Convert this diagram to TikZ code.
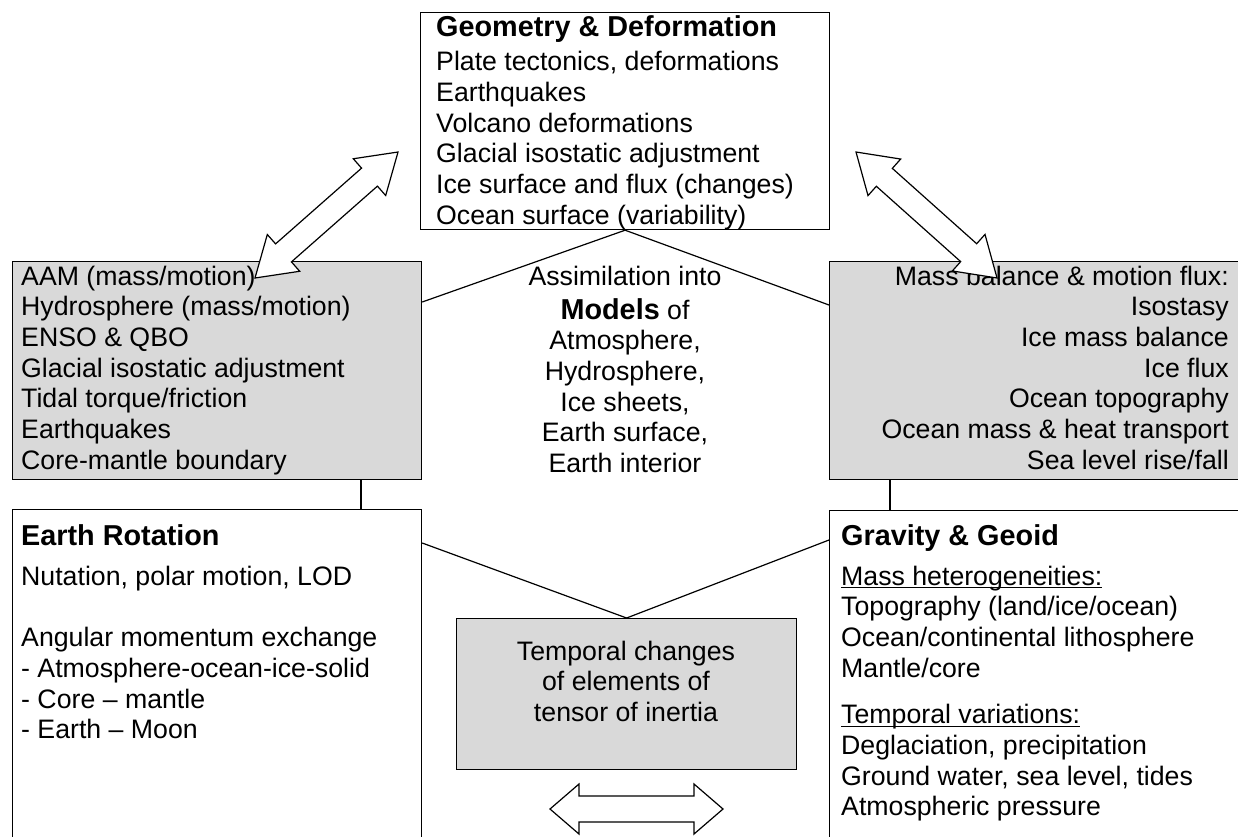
\documentclass[tikz,border=0pt]{standalone}
\usepackage{fontspec}
\setmainfont{Liberation Sans}
\usetikzlibrary{calc}

\definecolor{boxgray}{HTML}{D9D9D9}
\newcommand\bodyfont{\fontsize{26.7}{30.7}\selectfont}
\newcommand\headfont{\fontsize{28.8}{30.7}\selectfont\bfseries}
% underline that sits just below the baseline
\newcommand\ulin[1]{\setbox0\hbox{#1}\rlap{\rule[-3.4pt]{\wd0}{1.3pt}}\box0}

\tikzset{
  panel/.style={draw, line width=1.2pt, inner sep=0pt, anchor=north west},
  shaded/.style={panel, fill=boxgray},
  txt/.style={inner sep=0pt, font=\bodyfont},
  link/.style={line width=1.2pt},
  blockarrow/.style={draw, fill=white, line width=1.2pt, line join=miter},
  % double block arrow: length / head length / head half width / shaft half width
  pics/dblarrow/.style args={#1/#2/#3/#4}{code={
    \draw[blockarrow] (0,0) -- (#2,#3) -- (#2,#4) -- ({#1-#2},#4) -- ({#1-#2},#3)
      -- (#1,0) -- ({#1-#2},-#3) -- ({#1-#2},-#4) -- (#2,-#4) -- (#2,-#3) -- cycle;
  }}
}

\begin{document}
\begin{tikzpicture}[x=1pt,y=-1pt]
\useasboundingbox (0,0) rectangle (1238,836);
\fill[white] (0,0) rectangle (1238,836);
\clip (0,0) rectangle (1238,836);

% boxes
\node[panel,  minimum width=409pt, minimum height=217pt] (geo)   at (420,12)  {};
\node[shaded, minimum width=409pt, minimum height=218pt] (lgray) at (12,261)  {};
\node[shaded, minimum width=420pt, minimum height=218pt] (rgray) at (829,261) {};
\node[panel,  minimum width=409pt, minimum height=341pt] (rot)   at (12,509)  {};
\node[panel,  minimum width=420pt, minimum height=340pt] (grav)  at (829,510) {};
\node[shaded, minimum width=340pt, minimum height=151pt] (temp)  at (456,618) {};

% connectors
\draw[link] (lgray.east |- 0,302) -- (geo.south) -- (rgray.west |- 0,305);
\draw[link] (rot.east |- 0,543) -- (temp.north) -- (grav.west |- 0,540);
\draw[link] (lgray.south -| 361,0) -- (rot.north -| 361,0);
\draw[link] (rgray.south -| 890,0) -- (grav.north -| 890,0);

% texts
\node[txt, anchor=base west] (geotxt) at (436,36) {\begin{tabular}[t]{@{}l@{}}
  \headfont Geometry \& Deformation\\[4pt]
  Plate tectonics, deformations\\
  Earthquakes\\
  Volcano deformations\\
  Glacial isostatic adjustment\\
  Ice surface and flux (changes)\\
  Ocean surface (variability)
\end{tabular}};

\node[txt, anchor=base west] (ltxt) at (21,285) {\begin{tabular}[t]{@{}l@{}}
  AAM (mass/motion)\\
  Hydrosphere (mass/motion)\\
  ENSO \& QBO\\
  Glacial isostatic adjustment\\
  Tidal torque/friction\\
  Earthquakes\\
  Core-mantle boundary
\end{tabular}};

\node[txt, anchor=base east] (rtxt) at (1229,285) {\begin{tabular}[t]{@{}r@{}}
  Mass balance \& motion flux:\\
  Isostasy\\
  Ice mass balance\\
  Ice flux\\
  Ocean topography\\
  Ocean mass \& heat transport\\
  Sea level rise/fall
\end{tabular}};

\node[txt, anchor=base] (models) at (625,285) {\begin{tabular}[t]{@{}c@{}}
  Assimilation into\\[3.3pt]
  {\headfont Models} of\\
  Atmosphere,\\
  Hydrosphere,\\
  Ice sheets,\\
  Earth surface,\\
  Earth interior
\end{tabular}};

\node[txt, anchor=base west] (rottxt) at (21,545) {\begin{tabular}[t]{@{}l@{}}
  \headfont Earth Rotation\\[9.3pt]
  Nutation, polar motion, LOD\\[31pt]
  Angular momentum exchange\\
  - Atmosphere-ocean-ice-solid\\
  - Core – mantle\\
  - Earth – Moon
\end{tabular}};

\node[txt, anchor=base west] (gravtxt) at (841,545) {\begin{tabular}[t]{@{}l@{}}
  \headfont Gravity \& Geoid\\[9.3pt]
  \ulin{Mass heterogeneities:}\\
  Topography (land/ice/ocean)\\
  Ocean/continental lithosphere\\
  Mantle/core\\[16pt]
  \ulin{Temporal variations:}\\
  Deglaciation, precipitation\\
  Ground water, sea level, tides\\
  Atmospheric pressure
\end{tabular}};

\node[txt, anchor=base] (temptxt) at (626,660) {\begin{tabular}[t]{@{}c@{}}
  Temporal changes\\
  of elements of\\
  tensor of inertia
\end{tabular}};

% block arrows
\pic[rotate=41.38]  at (255,278) {dblarrow={190.6/38/24.5/12}};
\pic[rotate=-41.78] at (856,152) {dblarrow={189.1/38/24.5/12}};
\pic at (550,809) {dblarrow={173/29/25/13}};
\end{tikzpicture}
\end{document}
